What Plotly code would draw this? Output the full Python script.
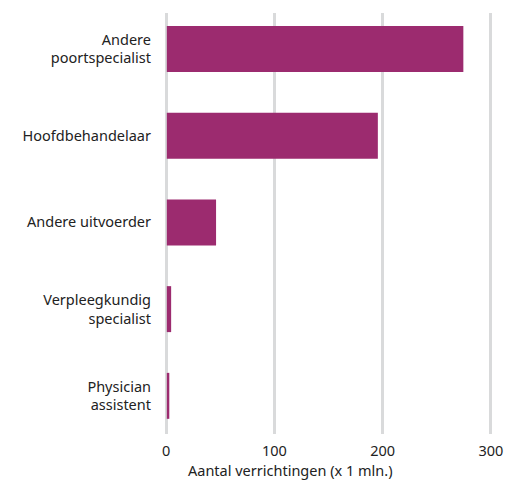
import plotly.graph_objects as go

categories = ["Andere<br>poortspecialist", "Hoofdbehandelaar", "Andere uitvoerder",
              "Verpleegkundig<br>specialist", "Physician<br>assistent"]
values = [274, 195, 45.5, 4, 2.3]
x_ticks = [0, 100, 200, 300]
x_title = "Aantal verrichtingen (x 1 mln.)"

fig = go.Figure(go.Bar(
    x=values, y=categories, orientation="h",
    marker=dict(color="#9c2b6f", line=dict(width=0)),
    base=0.6,
))

fig.update_layout(
    width=512, height=484,
    margin=dict(l=164, r=19, t=13, b=50, autoexpand=False),
    plot_bgcolor="white", paper_bgcolor="white",
    font=dict(family="Noto Sans, Open Sans, sans-serif", size=14.5, color="#222222"),
    bargap=0.47,
    showlegend=False,
)
fig.update_xaxes(
    range=[-2, 302], tickvals=x_ticks,
    showgrid=True, gridcolor="#d9dadb", gridwidth=3,
    zeroline=False, showline=False, automargin=False,
    ticklabelstandoff=6,
)
fig.update_yaxes(
    range=[4.44, -0.415], showgrid=False, zeroline=False, showline=False,
    ticklabelstandoff=12, automargin=False,
)
fig.add_annotation(
    text=x_title, xref="paper", yref="paper", x=0.383, y=-0.085,
    xanchor="center", yanchor="middle", showarrow=False,
    font=dict(size=14.5, color="#222222"),
)

fig.write_html(
    "out.html",
    config={"displayModeBar": False},
    post_script="document.body.style.margin='0';document.body.style.overflow='hidden';",
)
